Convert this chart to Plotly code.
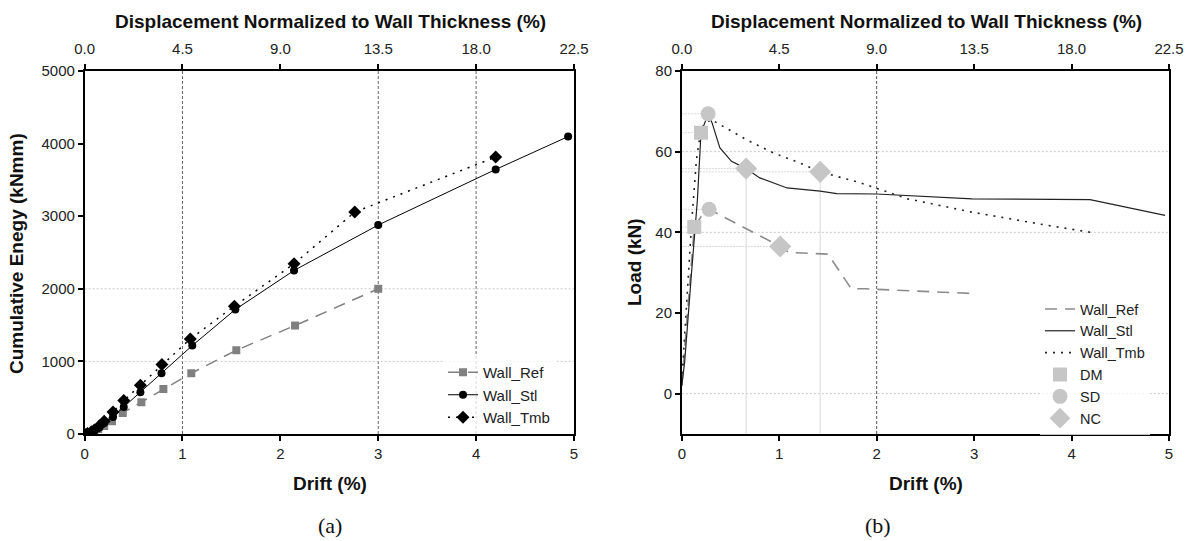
import plotly.graph_objects as go

# ---------------- data: panel (a) cumulative energy ----------------
ref_drift = [0.0, 0.03, 0.07, 0.10, 0.14, 0.20, 0.28, 0.39, 0.58, 0.805, 1.09, 1.55, 2.15, 3.0]
ref_energy = [0, 5, 20, 40, 70, 110, 175, 290, 437, 621, 837, 1154, 1494, 2000]

stl_drift = [0.0, 0.03, 0.07, 0.10, 0.15, 0.20, 0.29, 0.40, 0.57, 0.786, 1.10, 1.54, 2.14, 3.0, 4.20, 4.94]
stl_energy = [0, 5, 25, 50, 90, 150, 234, 372, 575, 837, 1218, 1715, 2253, 2878, 3644, 4097]

tmb_drift = [0.0, 0.03, 0.07, 0.10, 0.15, 0.20, 0.29, 0.40, 0.57, 0.79, 1.08, 1.53, 2.14, 2.76, 4.20]
tmb_energy = [0, 8, 30, 55, 110, 175, 303, 460, 671, 956, 1310, 1761, 2345, 3057, 3815]

# ---------------- data: panel (b) load ----------------
ref_d_b = [0.0, 0.05, 0.10, 0.128, 0.20, 0.28, 1.01, 1.10, 1.50, 1.74, 1.88, 3.02]
ref_load = [2, 18, 33, 41.3, 44.0, 45.7, 36.5, 35.0, 34.6, 26.0, 26.0, 24.8]

stl_d_b = [0.0, 0.03, 0.10, 0.16, 0.197, 0.27, 0.31, 0.39, 0.51, 0.66, 0.80, 1.08, 1.42, 1.59, 2.0, 2.98, 4.19, 4.96]
stl_load = [2, 8, 30, 48, 64.7, 69.3, 67.2, 61.0, 57.6, 55.8, 53.5, 51.0, 50.2, 49.6, 49.5, 48.3, 48.1, 44.2]

tmb_d_b = [0.0, 0.05, 0.10, 0.15, 0.20, 0.30, 0.66, 0.94, 1.21, 1.42, 1.83, 2.32, 2.98, 3.76, 4.20]
tmb_load = [3, 22, 42, 58, 66, 68, 63.0, 59.7, 57.2, 55.0, 52.3, 48.3, 45.0, 41.7, 40.0]

dm_x = [0.128, 0.197]
dm_y = [41.3, 64.7]
sd_x = [0.28, 0.27]
sd_y = [45.7, 69.4]
nc_x = [1.01, 0.66, 1.42]
nc_y = [36.5, 55.8, 55.0]

# ---------------- tick labels ----------------
drift_ticks = [0, 1, 2, 3, 4, 5]
disp_ticks = [0, 4.5, 9.0, 13.5, 18.0, 22.5]
disp_labels = ["0.0", "4.5", "9.0", "13.5", "18.0", "22.5"]
energy_ticks = [0, 1000, 2000, 3000, 4000, 5000]
load_ticks = [0, 20, 40, 60, 80]

FONT = "Liberation Sans, Arial, sans-serif"
GRAY = "#808080"
MK = "#c6c6c6"

fig = go.Figure()

# panel (a)
fig.add_trace(go.Scatter(x=ref_drift, y=ref_energy, name="Wall_Ref", mode="lines+markers",
                         line=dict(color=GRAY, width=1.5, dash="12px,8px"),
                         marker=dict(symbol="square", size=8, color=GRAY),
                         xaxis="x", yaxis="y", legend="legend"))
fig.add_trace(go.Scatter(x=stl_drift, y=stl_energy, name="Wall_Stl", mode="lines+markers",
                         line=dict(color="black", width=1),
                         marker=dict(symbol="circle", size=8, color="black"),
                         xaxis="x", yaxis="y", legend="legend"))
fig.add_trace(go.Scatter(x=tmb_drift, y=tmb_energy, name="Wall_Tmb", mode="lines+markers",
                         line=dict(color="black", width=1.5, dash="2px,6px"),
                         marker=dict(symbol="diamond", size=10, color="black"),
                         xaxis="x", yaxis="y", legend="legend"))

# panel (b)
fig.add_trace(go.Scatter(x=ref_d_b, y=ref_load, name="Wall_Ref", mode="lines",
                         line=dict(color="#8c8c8c", width=1.6, dash="12px,8px"),
                         xaxis="x2", yaxis="y2", legend="legend2"))
fig.add_trace(go.Scatter(x=stl_d_b, y=stl_load, name="Wall_Stl", mode="lines",
                         line=dict(color="#222222", width=1.2),
                         xaxis="x2", yaxis="y2", legend="legend2"))
fig.add_trace(go.Scatter(x=tmb_d_b, y=tmb_load, name="Wall_Tmb", mode="lines",
                         line=dict(color="#222222", width=1.6, dash="2px,6px"),
                         xaxis="x2", yaxis="y2", legend="legend2"))
fig.add_trace(go.Scatter(x=dm_x, y=dm_y, name="DM", mode="markers",
                         marker=dict(symbol="square", size=14, color=MK),
                         xaxis="x2", yaxis="y2", legend="legend2"))
fig.add_trace(go.Scatter(x=sd_x, y=sd_y, name="SD", mode="markers",
                         marker=dict(symbol="circle", size=15, color=MK),
                         xaxis="x2", yaxis="y2", legend="legend2"))
fig.add_trace(go.Scatter(x=nc_x, y=nc_y, name="NC", mode="markers",
                         marker=dict(symbol="diamond", size=17, color=MK),
                         xaxis="x2", yaxis="y2", legend="legend2"))

# reference lines (a)
shapes = []
for xv in [1, 3, 4]:
    shapes.append(dict(type="line", xref="x", yref="y", x0=xv, x1=xv, y0=0, y1=5000,
                       line=dict(color="#666666", width=1, dash="3px,2px"), layer="below"))
for yv in [1000, 2000]:
    shapes.append(dict(type="line", xref="x", yref="y", x0=0, x1=5, y0=yv, y1=yv,
                       line=dict(color="#c8c8c8", width=1, dash="2px,2px"), layer="below"))
# reference lines (b)
shapes.append(dict(type="line", xref="x2", yref="y2", x0=2, x1=2, y0=-10, y1=80,
                   line=dict(color="#555555", width=1, dash="3px,2px"), layer="below"))
for yv in [0, 40, 60]:
    shapes.append(dict(type="line", xref="x2", yref="y2", x0=0, x1=5, y0=yv, y1=yv,
                       line=dict(color="#c8c8c8", width=1, dash="2px,2px"), layer="below"))
# drop lines from limit-state markers
for mx, my in zip(dm_x + sd_x + nc_x, dm_y + sd_y + nc_y):
    shapes.append(dict(type="line", xref="x2", yref="y2", x0=0, x1=mx, y0=my, y1=my,
                       line=dict(color="#d8d8d8", width=1, dash="2px,1px"), layer="below"))
for mx, my in zip(nc_x[1:], nc_y[1:]):
    shapes.append(dict(type="line", xref="x2", yref="y2", x0=mx, x1=mx, y0=-10, y1=my,
                       line=dict(color="#d8d8d8", width=1), layer="below"))

YD = [1 - 434 / 541, 1 - 71 / 541]
XD1 = [84.6 / 1187, 574 / 1187]
XD2 = [681.8 / 1187, 1169 / 1187]

tickfont = dict(family=FONT, size=15, color="#222222")
common_x = dict(showline=True, linecolor="black", linewidth=1.5, ticks="outside", ticklen=5,
                tickwidth=1.5, tickcolor="black", showgrid=False, zeroline=False, tickfont=tickfont,
                automargin=False)
common_y = dict(showline=True, linecolor="black", linewidth=1.5, ticks="outside", ticklen=5,
                tickwidth=1.5, tickcolor="black", showgrid=False, zeroline=False, tickfont=tickfont,
                mirror=True, automargin=False)

fig.update_layout(
    width=1187, height=541, margin=dict(l=0, r=0, t=0, b=0, autoexpand=False),
    paper_bgcolor="white", plot_bgcolor="white",
    font=dict(family=FONT, color="#222222"),
    xaxis=dict(domain=XD1, range=[0, 5], tickvals=drift_ticks, anchor="y", **common_x),
    yaxis=dict(domain=YD, range=[0, 5000], tickvals=energy_ticks, anchor="x", **common_y),
    xaxis3=dict(overlaying="x", side="top", range=[0, 22.5], tickvals=disp_ticks,
                ticktext=disp_labels, anchor="y", ticklabelstandoff=4, **common_x),
    xaxis2=dict(domain=XD2, range=[0, 5], tickvals=drift_ticks, anchor="y2", **common_x),
    yaxis2=dict(domain=YD, range=[-10, 80], tickvals=load_ticks, anchor="x2", **common_y),
    xaxis4=dict(overlaying="x2", side="top", range=[0, 22.5], tickvals=disp_ticks,
                ticktext=disp_labels, anchor="y2", ticklabelstandoff=4, **common_x),
    legend=dict(x=443 / 1187, y=1 - 356 / 541, xanchor="left", yanchor="top",
                bgcolor="rgba(255,255,255,0.75)",
                font=dict(family=FONT, size=15, color="#222222"), tracegroupgap=0),
    legend2=dict(x=1040 / 1187, y=1 - 293 / 541, xanchor="left", yanchor="top",
                 bgcolor="rgba(255,255,255,0.75)",
                 font=dict(family=FONT, size=14.5, color="#222222"), tracegroupgap=0),
    shapes=shapes,
    showlegend=True,
)

# invisible traces to activate overlay top axes
fig.add_trace(go.Scatter(x=[0, 22.5], y=[0, 0], xaxis="x3", yaxis="y", mode="markers",
                         marker=dict(opacity=0), showlegend=False, hoverinfo="skip"))
fig.add_trace(go.Scatter(x=[0, 22.5], y=[0, 0], xaxis="x4", yaxis="y2", mode="markers",
                         marker=dict(opacity=0), showlegend=False, hoverinfo="skip"))

def py(px):
    return 1 - px / 541

titlefont = dict(family=FONT, size=19, color="#111111")
ann = [
    dict(text="<b>Displacement Normalized to Wall Thickness (%)</b>", x=330 / 1187, y=py(22)),
    dict(text="<b>Displacement Normalized to Wall Thickness (%)</b>", x=926 / 1187, y=py(22)),
    dict(text="<b>Drift (%)</b>", x=330 / 1187, y=py(483)),
    dict(text="<b>Drift (%)</b>", x=926 / 1187, y=py(483)),
    dict(text="<b>Cumulative Enegy (kNmm)</b>", x=17 / 1187, y=py(254), textangle=-90),
    dict(text="<b>Load (kN)</b>", x=634 / 1187, y=py(262), textangle=-90),
]
annotations = []
for a in ann:
    a.update(xref="paper", yref="paper", showarrow=False, font=titlefont,
             xanchor="center", yanchor="middle")
    annotations.append(a)
for txt, xx in [("(a)", 330), ("(b)", 878)]:
    annotations.append(dict(text=txt, x=xx / 1187, y=py(525), xref="paper", yref="paper",
                            showarrow=False, xanchor="center", yanchor="middle",
                            font=dict(family="Liberation Serif, Times New Roman, serif",
                                      size=22, color="#111111")))
fig.update_layout(annotations=annotations)

fig.write_html("out.html")
